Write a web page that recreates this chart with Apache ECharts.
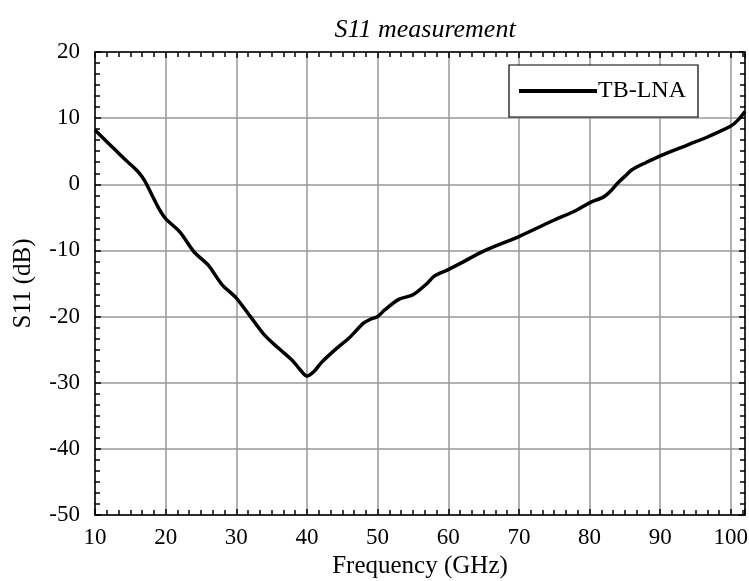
<!DOCTYPE html>
<html>
<head>
<meta charset="utf-8">
<script src="https://cdn.jsdelivr.net/npm/echarts@6/dist/echarts.min.js"></script>
<style>
html,body{margin:0;padding:0;background:#fff;}
#c{width:749px;height:581px;}
</style>
</head>
<body>
<div id="c"></div>
<script>
const freqGHz = [10,12,14,16,17,18,19,20,22,24,26,28,30,32,34,36,38,39,40,41,42,44,46,48,49,50,51,53,55,57,58,60,62,65,70,75,78,80,82,83,84,85,86,88,90,94,97,100,101,102];
const s11dB = [8.2,6.1,4.0,2.0,0.6,-1.5,-3.6,-5.2,-7.2,-10.2,-12.2,-15.2,-17.2,-20.0,-22.8,-24.8,-26.7,-28.0,-29.0,-28.3,-27.0,-25.0,-23.2,-21.0,-20.4,-20.0,-19.0,-17.4,-16.7,-15.0,-13.9,-12.9,-11.8,-10.1,-7.9,-5.4,-4.0,-2.8,-1.9,-1.0,0.2,1.2,2.2,3.3,4.3,6.0,7.3,8.8,9.7,11.0];
const xTicks = [10,20,30,40,50,60,70,80,90,100];
const yTicks = [-50,-40,-30,-20,-10,0,10,20];
const seriesName = 'TB-LNA';

const FONT = 'Liberation Serif';
const chart = echarts.init(document.getElementById('c'), null, {renderer:'canvas'});
const data = freqGHz.map((f,i)=>[f, s11dB[i]]);
const gridLine = {show:true, lineStyle:{color:'#999', width:1.5}};
const minor = {show:true, splitNumber:6, length:5, lineStyle:{color:'#000', width:1.5}};
const baseX = {
  type:'value', min:10, max:102, interval:10,
  axisLine:{show:true, onZero:false, lineStyle:{color:'#000', width:1.5}},
  axisTick:{show:true, inside:true, length:6, lineStyle:{color:'#000', width:1.5}},
  minorTick:Object.assign({}, minor),
  splitLine:gridLine
};
const baseY = {
  type:'value', min:-50, max:20, interval:10,
  axisLine:{show:true, onZero:false, lineStyle:{color:'#000', width:1.5}},
  axisTick:{show:true, inside:true, length:6, lineStyle:{color:'#000', width:1.5}},
  minorTick:Object.assign({}, minor),
  splitLine:gridLine
};
chart.setOption({
  animation:false,
  backgroundColor:'#fff',
  title:{
    text:'S11 measurement', left:420, top:12, textAlign:'center',
    textStyle:{fontFamily:FONT, fontStyle:'italic', fontWeight:'normal', fontSize:26, color:'#000'}
  },
  grid:{left:95, right:4, top:52, bottom:66, containLabel:false, outerBoundsMode:'none'},
  legend:{
    show:true,
    data:[seriesName], left:509, top:65,
    padding:[14,12,14,8], itemWidth:78, itemHeight:4, itemGap:0,
    borderColor:'#000', borderWidth:1.2, borderRadius:0, backgroundColor:'#fff',
    lineStyle:{width:4, color:'#000'},
    itemStyle:{opacity:0},
    textStyle:{fontFamily:FONT, fontSize:24, color:'#000', padding:[0,0,0,-4]}
  },
  xAxis:[
    Object.assign({}, baseX, {
      position:'bottom',
      name:'Frequency (GHz)', nameLocation:'middle', nameGap:37,
      nameTextStyle:{fontFamily:FONT, fontSize:25, color:'#000'},
      axisLabel:{fontFamily:FONT, fontSize:23, color:'#000', margin:11,
        formatter:v=> xTicks.indexOf(v)>=0 ? String(v) : ''}
    }),
    Object.assign({}, baseX, {position:'top', axisLabel:{show:false}, splitLine:{show:false}})
  ],
  yAxis:[
    Object.assign({}, baseY, {
      position:'left',
      name:'S11 (dB)', nameLocation:'middle', nameGap:59,
      nameTextStyle:{fontFamily:FONT, fontSize:25, color:'#000'},
      axisLabel:{fontFamily:FONT, fontSize:23, color:'#000', margin:15,
        formatter:v=> yTicks.indexOf(v)>=0 ? String(v) : ''}
    }),
    Object.assign({}, baseY, {position:'right', axisLabel:{show:false}, splitLine:{show:false}})
  ],
  series:[{
    name:seriesName, type:'line', data:data, showSymbol:false, symbol:'none',
    smooth:0.3, xAxisIndex:0, yAxisIndex:0,
    lineStyle:{color:'#000', width:3.5}, itemStyle:{color:'#000'},
    clip:true
  }]
});
</script>
</body>
</html>
